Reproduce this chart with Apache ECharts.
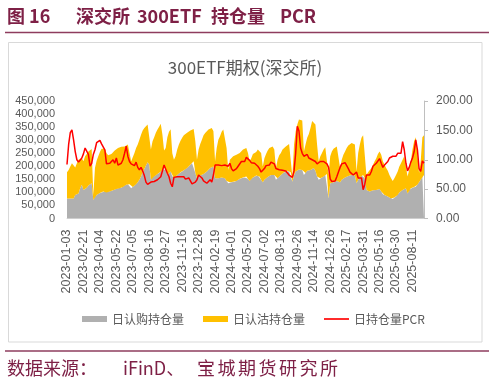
<!DOCTYPE html>
<html><head><meta charset="utf-8">
<script src="https://cdn.jsdelivr.net/npm/echarts@6/dist/echarts.min.js"></script>
<style>html,body{margin:0;padding:0;background:#fff}#c{width:494px;height:382px}</style>
</head><body><div id="c"></div>
<script>
// Holding volume (thousand contracts), sampled every 3rd trading day from 2023-01-03
const callK = [77,77,77,77,77,90,93,96,116,129,
109,116,118,126,131,135,71,84,90,95,
98,100,103,103,100,103,103,105,108,111,
113,116,116,118,121,126,129,131,131,116,
121,126,131,139,148,161,177,190,203,215,
206,148,157,161,167,170,174,180,190,195,
186,167,174,180,161,154,161,167,172,177,
180,185,190,193,199,206,212,219,174,154,
161,165,167,170,174,180,186,193,198,199,
154,152,154,154,157,157,154,144,135,139,
139,141,141,144,148,152,154,157,157,161,
152,144,152,157,161,165,165,161,148,139,
148,154,159,162,167,170,167,148,154,161,
167,172,177,180,183,180,177,141,167,180,
186,188,190,186,167,174,183,185,186,190,
193,183,161,148,154,157,161,167,170,77,
135,139,139,141,144,144,139,148,154,157,
161,163,165,167,167,165,135,148,157,165,
167,154,109,103,103,105,108,111,109,113,
113,103,93,90,87,84,80,77,75,80,
84,90,100,105,109,113,116,96,109,116,
118,121,122,129,139,148,161,167];
const putK = [100,109,122,135,129,105,119,129,115,102,
110,122,129,131,133,131,19,109,131,143,
157,167,170,164,151,139,135,142,143,149,
154,154,157,157,155,150,150,152,152,103,
104,125,139,144,154,160,160,157,151,145,
148,116,139,150,161,171,177,183,131,65,
84,144,158,162,89,71,77,97,111,121,
129,134,134,135,133,131,129,124,122,71,
103,120,135,149,153,154,155,152,149,135,
65,118,148,161,175,184,193,126,51,86,
92,97,101,100,99,99,103,107,110,109,
99,75,79,90,90,90,99,109,103,60,
83,93,101,108,106,106,97,45,71,81,
84,92,93,96,100,105,106,20,116,154,
174,191,196,189,90,109,126,139,161,183,
186,177,122,71,84,94,103,106,110,90,
103,118,128,132,132,126,54,77,90,100,
109,117,120,122,124,118,45,103,126,144,
152,161,58,74,80,88,98,108,122,134,
144,141,126,116,106,99,87,77,69,74,
83,90,99,107,116,125,122,65,77,103,
146,175,189,186,35,71,150,152];
const pcr = [92,126,146,151,134,114,100,96,97,103,
110,120,123,109,89,94,109,117,129,129,
133,127,130,117,93,90,94,97,100,94,
103,91,89,94,100,111,123,106,97,93,
94,90,96,87,83,87,81,73,62,58,
61,62,63,63,64,66,69,71,73,91,
93,77,71,60,54,70,73,71,71,71,
73,71,67,66,69,64,59,56,62,66,
74,77,69,64,66,60,57,66,62,74,
91,94,91,89,90,91,91,91,89,94,
85,81,78,85,89,91,97,95,97,104,
104,99,95,97,94,93,89,85,79,77,
85,90,90,91,96,93,93,85,83,83,
83,82,81,81,80,74,71,70,81,111,
157,149,120,111,106,107,109,103,106,100,
100,97,93,94,97,97,97,94,93,87,
67,63,66,64,71,79,87,93,93,95,
90,85,79,77,74,72,79,69,66,69,
49,58,74,77,74,80,89,87,94,97,
102,94,87,91,94,97,103,100,106,109,
106,111,109,111,131,117,94,81,87,96,
103,114,134,117,85,80,98,94];
const UNIT = 1000;
// Exchange holidays (weekdays closed) used to build the trading-day calendar (categories)
const holidays = ['2023-01-02','2023-01-23','2023-01-24','2023-01-25','2023-01-26','2023-01-27','2023-04-05','2023-05-01','2023-05-02','2023-05-03','2023-06-22','2023-06-23','2023-09-29','2023-10-02','2023-10-03','2023-10-04','2023-10-05','2023-10-06',
'2024-01-01','2024-02-09','2024-02-12','2024-02-13','2024-02-14','2024-02-15','2024-02-16','2024-04-04','2024-04-05','2024-05-01','2024-05-02','2024-05-03','2024-06-10','2024-09-16','2024-09-17','2024-10-01','2024-10-02','2024-10-03','2024-10-04','2024-10-07',
'2025-01-01','2025-01-28','2025-01-29','2025-01-30','2025-01-31','2025-02-03','2025-02-04','2025-04-04','2025-05-01','2025-05-02','2025-05-05','2025-06-02','2025-10-01','2025-10-02','2025-10-03','2025-10-06','2025-10-07','2025-10-08'];
const startDate = '2023-01-03';
const sampleStep = 3;
const legendNames = ['日认购持仓量','日认沽持仓量','日持仓量PCR'];
const leftTicks = {min:0, max:450000, interval:50000};
const rightTicks = {min:0, max:200, interval:50};

const hs = new Set(holidays);
const days = [];
let d = new Date(startDate + 'T00:00:00Z');
while (days.length < callK.length * sampleStep) {
  const wd = d.getUTCDay();
  const s = d.toISOString().slice(0,10);
  if (wd !== 0 && wd !== 6 && !hs.has(s)) days.push(s);
  d = new Date(d.getTime() + 86400000);
}
const cats = callK.map((_, i) => days[i * sampleStep]);

const maroon = '#7E2046';
const grey = '#595959';
const chart = echarts.init(document.getElementById('c'), null, {renderer:'canvas'});
const headerFont = 'bold 18px "Noto Sans CJK SC", sans-serif';
const footFont = '18px "Noto Sans CJK SC", sans-serif';
const graphics = [
  {type:'rect', z:-1, shape:{x:8.5,y:42.5,width:473.5,height:299.5}, style:{fill:'#fff', stroke:'#D9D9D9', lineWidth:1}},
  {type:'line', shape:{x1:5,y1:32.5,x2:489,y2:32.5}, style:{stroke:'#8E3C5E', lineWidth:1.3}},
  {type:'text', x:245, y:68, style:{text:'300ETF期权(深交所)', font:'17px "Noto Sans CJK SC", sans-serif', fill:grey, align:'center', verticalAlign:'middle'}},
  {type:'line', shape:{x1:5,y1:351,x2:489,y2:351}, style:{stroke:'#8E3C5E', lineWidth:1.3}},
  {type:'text', x:7, y:368, style:{text:'数据来源：', font:footFont, fill:maroon, verticalAlign:'middle'}},
  {type:'text', x:123, y:368, style:{text:'iFinD、', font:footFont, fill:maroon, verticalAlign:'middle'}}
];
[['图 16',7],['深交所',76],['300ETF',137],['持仓量',211],['PCR',280]].forEach(([t,x]) =>
  graphics.push({type:'text', x:x, y:16, style:{text:t, font:headerFont, fill:maroon, verticalAlign:'middle'}}));
'宝城期货研究所'.split('').forEach((ch, i) =>
  graphics.push({type:'text', x:197 + i*20.5, y:368, style:{text:ch, font:footFont, fill:maroon, verticalAlign:'middle'}}));

chart.setOption({
  animation:false,
  graphic: graphics,
  grid:{left:67, right:70, top:101, bottom:163.5},
  legend:{
    left:77, top:308, itemWidth:25, itemHeight:6, itemGap:19,
    textStyle:{color:grey, fontSize:12, fontFamily:'"Noto Sans CJK SC", sans-serif'},
    data:[
      {name:legendNames[0], icon:'rect'},
      {name:legendNames[1], icon:'rect'},
      {name:legendNames[2], icon:'path://M0,0 L30,0 L30,2 L0,2 Z'}
    ]
  },
  xAxis:{
    type:'category', data:cats, boundaryGap:false,
    axisLine:{show:true, lineStyle:{color:'#D9D9D9'}}, axisTick:{show:false},
    axisLabel:{interval:9, rotate:90, color:grey, fontSize:12.5, margin:11, fontFamily:'"Liberation Sans", Arial, sans-serif'}
  },
  yAxis:[
    {type:'value', min:leftTicks.min, max:leftTicks.max, interval:leftTicks.interval,
     axisLine:{show:false}, axisTick:{show:false}, splitLine:{show:false},
     axisLabel:{color:grey, fontSize:11, margin:12, fontFamily:'"Liberation Sans", Arial, sans-serif',
       formatter:v => v.toString().replace(/\B(?=(\d{3})+(?!\d))/g, ',')}},
    {type:'value', min:rightTicks.min, max:rightTicks.max, interval:rightTicks.interval, position:'right',
     axisLine:{show:true, lineStyle:{color:'#BFBFBF'}}, axisTick:{show:true, length:4, lineStyle:{color:'#BFBFBF'}}, splitLine:{show:false},
     axisLabel:{color:grey, fontSize:12, margin:12, fontFamily:'"Liberation Sans", Arial, sans-serif', formatter:v => v.toFixed(2)}}
  ],
  series:[
    {name:legendNames[0], type:'line', stack:'oi', symbol:'none', data:callK.map(v=>v*UNIT),
     itemStyle:{color:'#B0B0B0'}, lineStyle:{width:0}, areaStyle:{color:'#B0B0B0', opacity:1}},
    {name:legendNames[1], type:'line', stack:'oi', symbol:'none', data:putK.map(v=>v*UNIT),
     itemStyle:{color:'#FFC000'}, lineStyle:{width:0}, areaStyle:{color:'#FFC000', opacity:1}},
    {name:legendNames[2], type:'line', yAxisIndex:1, symbol:'none', data:pcr,
     itemStyle:{color:'#FF0000'}, lineStyle:{color:'#FF0000', width:1.5}, z:5}
  ]
});
</script></body></html>
